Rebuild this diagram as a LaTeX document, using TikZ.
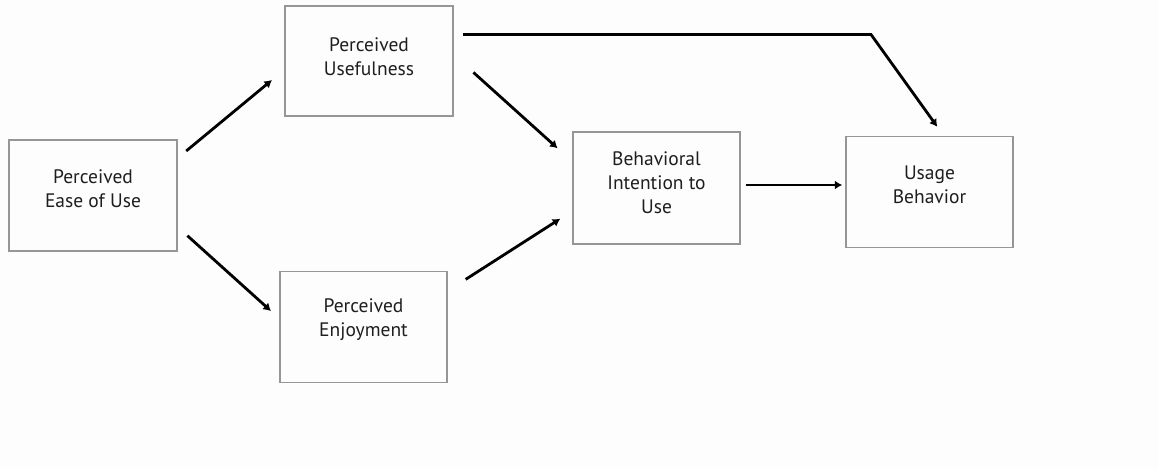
\documentclass[tikz,border=0pt]{standalone}
\usepackage{fontspec}
\setmainfont{PT Sans}
\usetikzlibrary{arrows.meta,calc}
\definecolor{boxgray}{RGB}{150,150,150}
\definecolor{inkgray}{RGB}{30,30,30}
\definecolor{paper}{RGB}{253,253,253}
\begin{document}
\begin{tikzpicture}[x=1pt,y=-1pt,
  box/.style={draw=boxgray, line width=1.4pt, minimum width=167pt,
    minimum height=111pt, inner sep=0pt},
  txt/.style={align=center, text=inkgray, font=\fontsize{19.5}{24}\selectfont},
  arr/.style={line width=2.8pt, -{Latex[length=7.5pt,width=9pt]}}
]
% canvas
\fill[paper] (0,0) rectangle (1158,469);
\useasboundingbox (0,0) rectangle (1158,469);

% constructs
\node[box, minimum width=168pt, label={[txt,yshift=6.5pt]center:Perceived\\Ease of Use}] (peou) at (93,195.5) {};
\node[box, minimum width=168pt, minimum height=110pt, label={[txt,yshift=4pt]center:Perceived\\Usefulness}] (pu) at (369,61) {};
\node[box, minimum height=110.5pt, label={[txt,yshift=7pt]center:Perceived\\Enjoyment}] (pe) at (363.5,327) {};
\node[box, minimum height=112pt, label={[txt,yshift=5pt]center:Behavioral\\Intention to\\Use}] (bi) at (656.5,188) {};
\node[box, label={[txt,yshift=7pt]center:Usage\\Behavior}] (ub) at (929.5,192) {};

% connector end points
\coordinate (a1) at ($(peou.north east)+(8.5,11.7)$);
\coordinate (a2) at ($(pu.south west)+(-12.3,-36.7)$);
\coordinate (b1) at ($(peou.south east)+(9.7,-16)$);
\coordinate (b2) at ($(pe.north west)+(-8.3,40)$);
\coordinate (c1) at ($(pu.south east)+(19.7,-44.3)$);
\coordinate (c2) at ($(bi.north west)+(-14.7,17)$);
\coordinate (d1) at ($(pe.north east)+(18,8.3)$);
\coordinate (d2) at ($(bi.south west)+(-12,-26)$);
\coordinate (e1) at ($(bi.east)+(5,-3)$);
\coordinate (e2) at ($(ub.west)+(-3,-7)$);
\coordinate (f1) at ($(pu.north east)+(9.4,29.2)$);
\coordinate (f3) at ($(ub.north west)+(92,-9)$);
\coordinate (f2) at (f3 |- f1);
\coordinate (fk) at ($(f2)+(-66.3,0)$);

% relations
\draw[arr] (a1) -- (a2);
\draw[arr] (b1) -- (b2);
\draw[arr] (c1) -- (c2);
\draw[arr] (d1) -- (d2);
\draw[arr] (e1) -- (e2);
\draw[arr] (f1) -- (fk) -- (f3);
\end{tikzpicture}
\end{document}
